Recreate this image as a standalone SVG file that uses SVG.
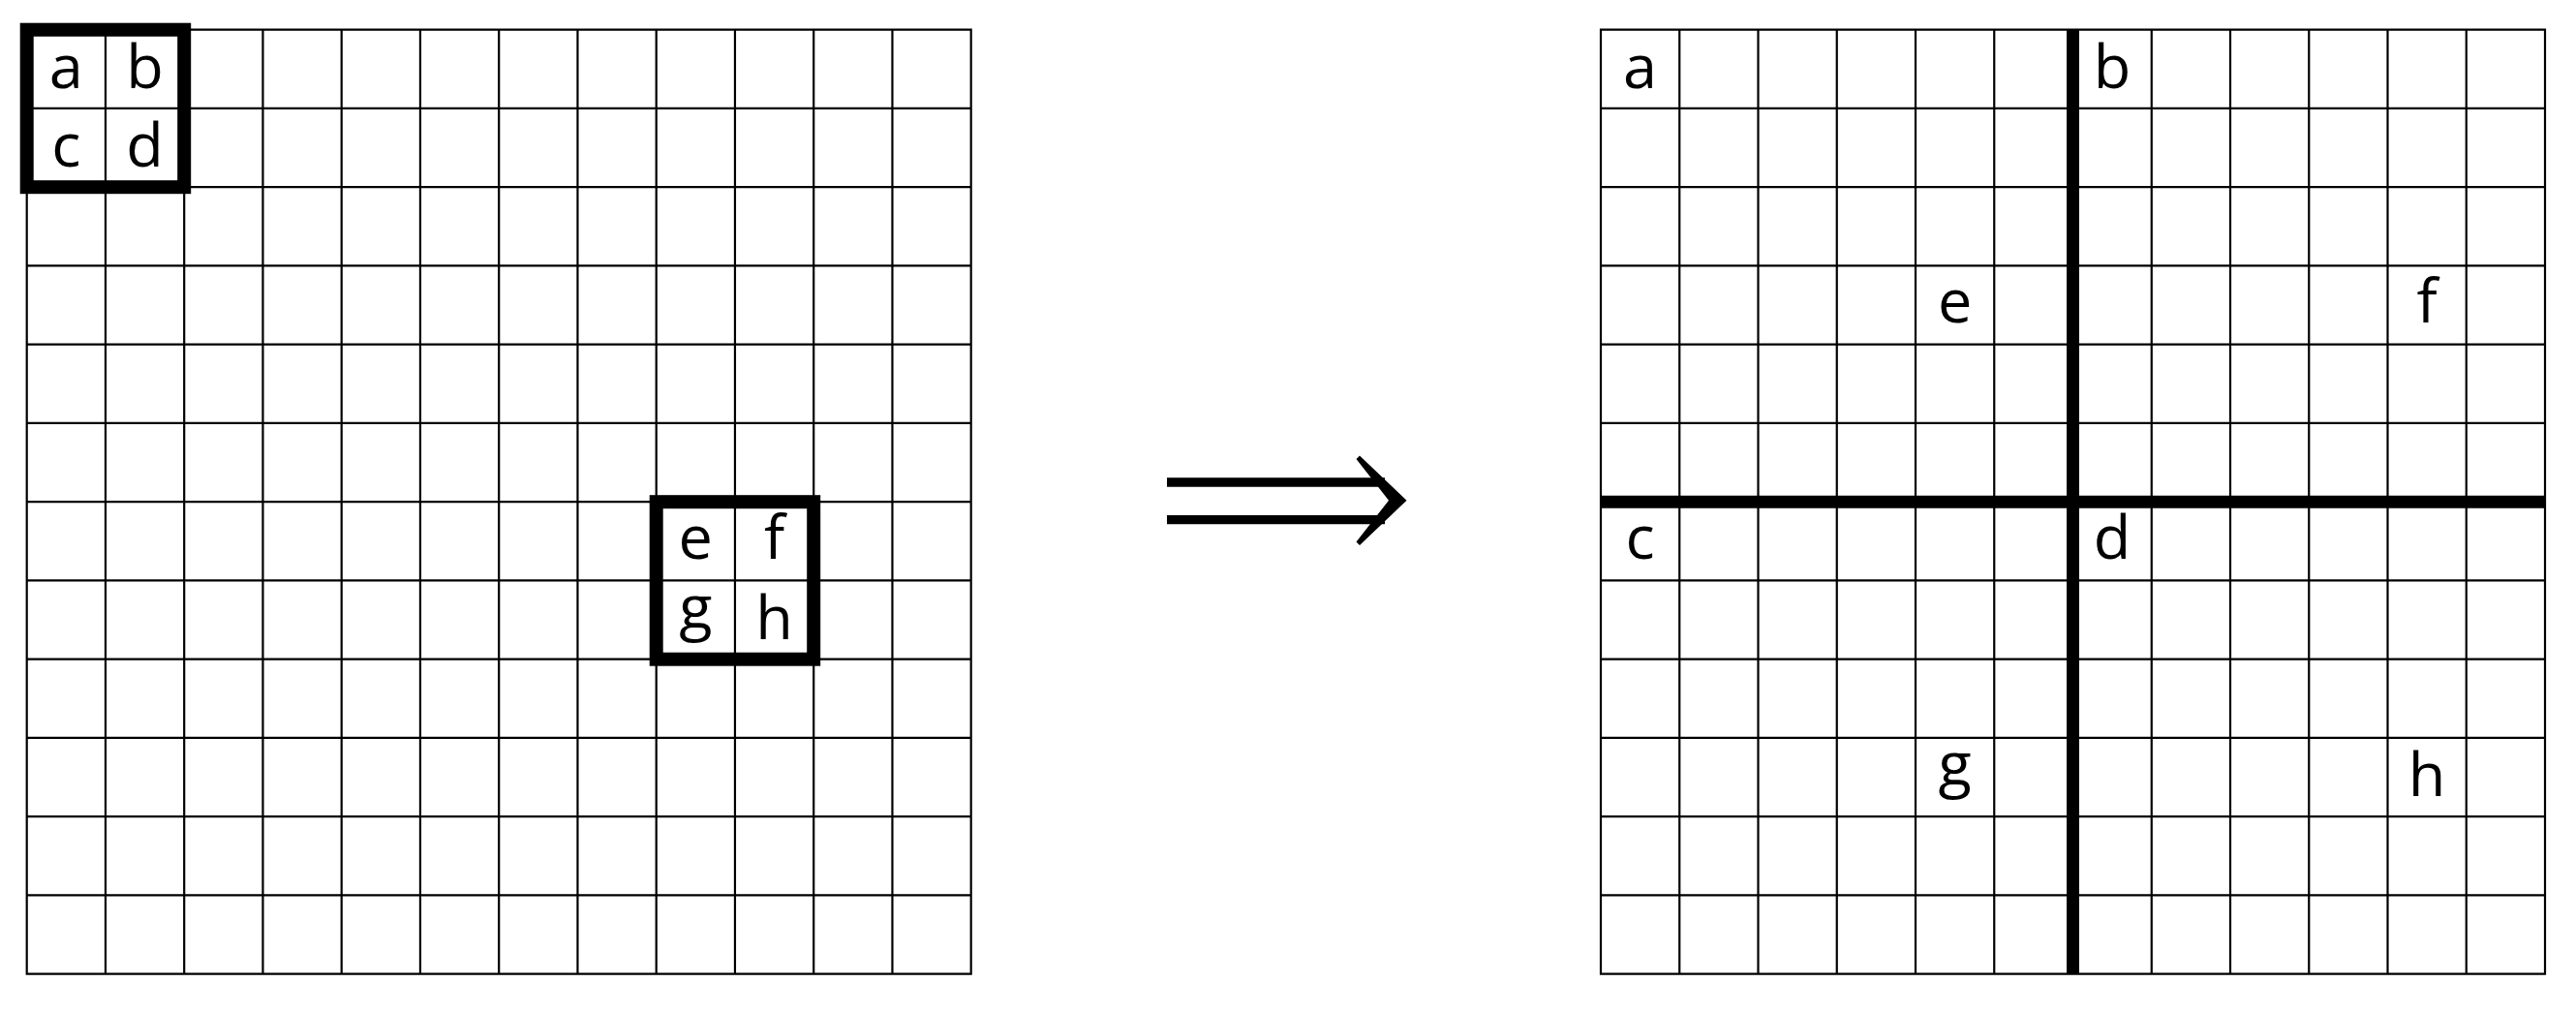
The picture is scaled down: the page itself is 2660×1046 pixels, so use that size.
<svg xmlns="http://www.w3.org/2000/svg" xmlns:xlink="http://www.w3.org/1999/xlink" width="2660" height="1046" viewBox="0 0 2660 1046">
<style>
.grid{fill:none;stroke:#000;stroke-width:2.2;stroke-linecap:square}
.thick{fill:none;stroke:#000;stroke-width:14}
.sep{fill:none;stroke:#000;stroke-width:13}
.lbl{font-family:"Open Sans","DejaVu Sans",sans-serif;font-size:63px;fill:#000;text-anchor:middle}
.arr{fill:none;stroke:#000;stroke-width:9.3}
</style>
<defs>
<path id="g12" class="grid" d="M0 0V975M81.25 0V975M162.5 0V975M243.75 0V975M325 0V975M406.25 0V975M487.5 0V975M568.75 0V975M650 0V975M731.25 0V975M812.5 0V975M893.75 0V975M975 0V975M0 0H975M0 81.25H975M0 162.5H975M0 243.75H975M0 325H975M0 406.25H975M0 487.5H975M0 568.75H975M0 650H975M0 731.25H975M0 812.5H975M0 893.75H975M0 975H975"/>
</defs>
<rect width="2660" height="1046" fill="#fff"/>
<g id="left-grid" transform="translate(27.7,30.7)">
<use xlink:href="#g12" href="#g12"/>
<rect class="thick" x="0" y="0" width="162.5" height="162.5"/>
<rect class="thick" x="650" y="487.5" width="162.5" height="162.5"/>
<text class="lbl" x="40.6" y="60">a</text>
<text class="lbl" x="121.9" y="60">b</text>
<text class="lbl" x="40.6" y="141.25">c</text>
<text class="lbl" x="121.9" y="141.25">d</text>
<text class="lbl" x="690.6" y="546.5">e</text>
<text class="lbl" x="771.9" y="546.5">f</text>
<text class="lbl" x="690.6" y="618">g</text>
<text class="lbl" x="771.9" y="629.5">h</text>
</g>
<g id="right-grid" transform="translate(1653,30.7)">
<use xlink:href="#g12" href="#g12"/>
<path class="sep" d="M487.5 0V975M0 487.5H975"/>
<text class="lbl" x="40.6" y="60">a</text>
<text class="lbl" x="528.1" y="60">b</text>
<text class="lbl" x="365.6" y="302.75">e</text>
<text class="lbl" x="853.1" y="302.75">f</text>
<text class="lbl" x="40.6" y="546.5">c</text>
<text class="lbl" x="528.1" y="546.5">d</text>
<text class="lbl" x="365.6" y="780">g</text>
<text class="lbl" x="853.1" y="791.5">h</text>
</g>
<g id="connectors">
<path class="arr" d="M1205 498H1430M1205 536.7H1430"/>
<polygon fill="#000" points="1400.5,474 1404,470.5 1452.5,516.7 1404,563 1400.5,559.5 1434,516.7"/>
</g>
</svg>
